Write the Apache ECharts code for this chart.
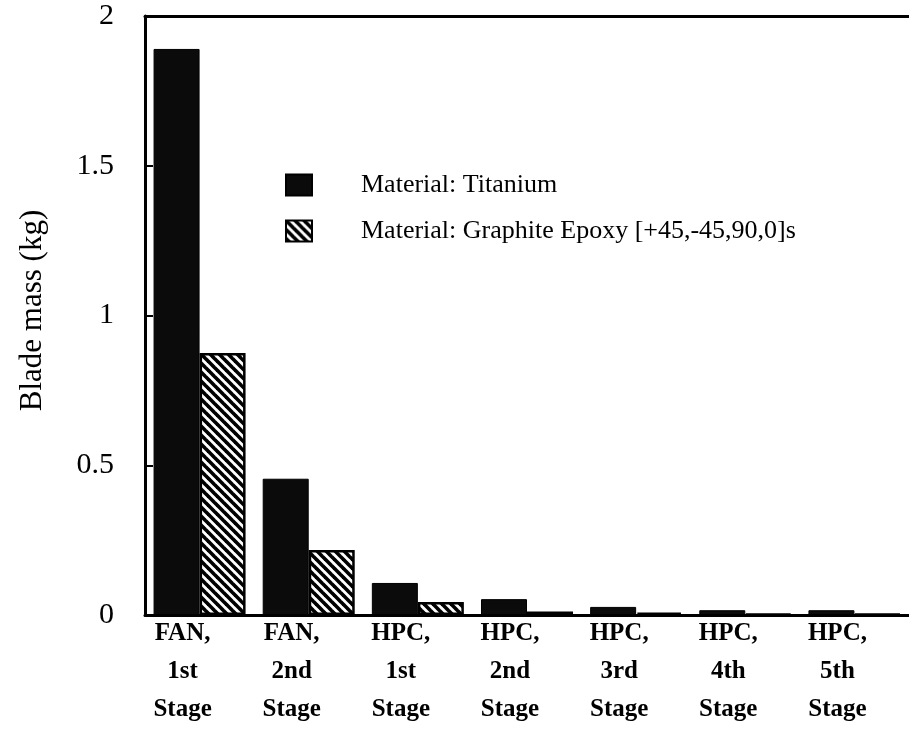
<!DOCTYPE html>
<html>
<head>
<meta charset="utf-8">
<script src="https://cdn.jsdelivr.net/npm/echarts@6/dist/echarts.min.js"></script>
<style>html,body{margin:0;padding:0;background:#fff;}#c{width:909px;height:730px;}</style>
</head>
<body>
<div id="c"></div>
<script>
var categories = ['FAN,\n1st\nStage', 'FAN,\n2nd\nStage', 'HPC,\n1st\nStage', 'HPC,\n2nd\nStage', 'HPC,\n3rd\nStage', 'HPC,\n4th\nStage', 'HPC,\n5th\nStage'];
var seriesNames = ['Material: Titanium', 'Material: Graphite Epoxy [+45,-45,90,0]s'];
var titanium = [1.89, 0.455, 0.107, 0.053, 0.027, 0.016, 0.016];
var graphite = [0.875, 0.217, 0.043, 0.012, 0.008, 0.004, 0.003];
var yTicks = [0, 0.5, 1, 1.5, 2];

function hatch() {
  var s = 9;
  var cv = document.createElement('canvas');
  cv.width = s; cv.height = s;
  var g = cv.getContext('2d');
  g.fillStyle = '#fff'; g.fillRect(0, 0, s, s);
  g.strokeStyle = '#000'; g.lineWidth = 3.6; g.lineCap = 'square';
  for (var k = -1; k <= 1; k++) {
    g.beginPath(); g.moveTo(k * s, 0); g.lineTo(k * s + s, s); g.stroke();
  }
  return cv;
}

var font = 'Liberation Serif';
var chart = echarts.init(document.getElementById('c'));
chart.setOption({
  animation: false,
  backgroundColor: '#fff',
  grid: { left: 145, right: 0, top: 16, bottom: 115 },
  legend: {
    orient: 'vertical', left: 280, top: 167, icon: 'rect',
    itemWidth: 26, itemHeight: 21, itemGap: 20,
    data: seriesNames,
    formatter: function (n) { return '{s|}{t|' + n + '}'; },
    textStyle: {
      fontFamily: font, fontSize: 26, color: '#000',
      rich: { s: { width: 44 }, t: { fontFamily: font, fontSize: 26, color: '#000' } }
    }
  },
  xAxis: [{
    type: 'category', data: categories, position: 'bottom',
    axisLine: { lineStyle: { color: '#000', width: 3 } },
    axisTick: { show: false },
    axisLabel: { fontFamily: font, fontSize: 25, fontWeight: 'bold', color: '#000', lineHeight: 38, margin: 0, padding: [0, 34, 0, 0], interval: 0 }
  }, {
    type: 'category', data: categories, position: 'top',
    axisLine: { lineStyle: { color: '#000', width: 3 } },
    axisTick: { show: false }, axisLabel: { show: false }
  }],
  yAxis: {
    type: 'value', min: yTicks[0], max: yTicks[yTicks.length - 1], interval: 0.5,
    name: 'Blade mass (kg)', nameLocation: 'middle', nameRotate: 90, nameGap: 97, nameTextStyle: { fontFamily: font, fontSize: 31, color: '#000', padding: [0, 0, 0, 10] },
    axisLine: { show: true, lineStyle: { color: '#000', width: 3 } },
    axisTick: { show: true, inside: true, length: 8, lineStyle: { color: '#000', width: 2 } },
    axisLabel: { fontFamily: font, fontSize: 30, color: '#000', margin: 31, padding: [6, 0, 0, 0] },
    splitLine: { show: false }
  },
  series: [{
    name: seriesNames[0], type: 'bar', data: titanium,
    barWidth: 46, barGap: '0%',
    itemStyle: { color: '#0b0b0b', borderColor: '#000', borderWidth: 1 }
  }, {
    name: seriesNames[1], type: 'bar', data: graphite,
    barWidth: 46,
    itemStyle: { color: { image: hatch(), repeat: 'repeat' }, borderColor: '#000', borderWidth: 2.5 }
  }]
});
</script>
</body>
</html>
